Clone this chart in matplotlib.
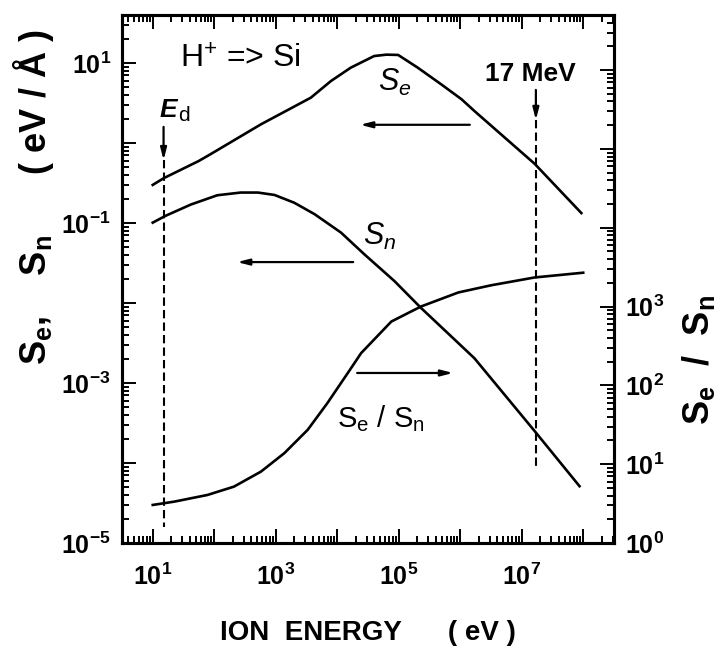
import math
import matplotlib
matplotlib.use('Agg')
import matplotlib.pyplot as plt
from matplotlib.ticker import FixedLocator, FuncFormatter, LogLocator, NullFormatter

plt.rcParams['font.family'] = ['Liberation Sans', 'DejaVu Sans']
plt.rcParams['mathtext.fontset'] = 'custom'
plt.rcParams['mathtext.rm'] = 'Liberation Sans'
plt.rcParams['mathtext.it'] = 'Liberation Sans:italic'
plt.rcParams['mathtext.bf'] = 'Liberation Sans:bold'

# electronic stopping Se (eV/A)
se_energy = [10, 15.1, 56.2, 87.1, 575, 3720, 7940, 16600, 39800, 63100, 97700,
             204000, 490000, 1.05e6, 1.70e6, 1.62e7, 9.33e7]
se_value = [0.299, 0.363, 0.596, 0.724, 1.71, 3.68, 5.96, 8.73, 12.2, 12.7, 12.6,
            8.73, 5.41, 3.52, 2.51, 0.550, 0.133]

# nuclear stopping Sn (eV/A)
sn_energy = [10, 16.2, 41.7, 112, 269, 513, 955, 2000, 4270, 11500, 27500, 85100,
             229000, 1.70e6, 1.62e7, 8.71e7]
sn_value = [0.101, 0.123, 0.170, 0.222, 0.240, 0.240, 0.224, 0.179, 0.129, 0.0759,
            0.0407, 0.0188, 0.00871, 0.00204, 2.51e-4, 5.13e-5]

# ratio Se / Sn (right axis)
ratio_energy = [10, 22.4, 77.6, 209, 575, 1380, 3310, 6920, 14800, 24500, 75900,
                229000, 933000, 3.16e6, 1.62e7, 1.0e8]
ratio_value = [3.04, 3.35, 4.07, 5.19, 8.05, 13.8, 27.3, 59.6, 143, 257, 646,
               1000, 1510, 1860, 2340, 2690]

e_d = 15        # displacement energy, eV
e_mark = 1.7e7  # 17 MeV

x_major = [10 ** k for k in range(1, 9)]
left_major = [10 ** k for k in range(-5, 2)]
right_major = [10 ** k for k in range(0, 7)]


def pow_label(shown):
    def fmt(v, pos):
        k = int(round(math.log10(v)))
        return r'$\mathbf{10^{%d}}$' % k if k in shown else ''
    return fmt


fig = plt.figure(figsize=(7.24, 6.5), dpi=100)
ax = fig.add_axes([0.1685, 0.1646, 0.6795, 0.8124])
ax.set_xscale('log')
ax.set_yscale('log')
ax.set_xlim(10 ** 0.5, 10 ** 8.5)
ax.set_ylim(1e-5, 10 ** 1.6)

ax.plot(se_energy, se_value, color='black', lw=1.9, solid_joinstyle='round')
ax.plot(sn_energy, sn_value, color='black', lw=1.9, solid_joinstyle='round')

ax2 = ax.twinx()
ax2.set_yscale('log')
ax2.set_ylim(1, 10 ** 6.7)
ax2.plot(ratio_energy, ratio_value, color='black', lw=1.9, solid_joinstyle='round')

# ticks
ax.xaxis.set_major_locator(FixedLocator(x_major))
ax.xaxis.set_major_formatter(FuncFormatter(pow_label({1, 3, 5, 7})))
ax.xaxis.set_minor_locator(LogLocator(base=10, subs=range(2, 10), numticks=30))
ax.xaxis.set_minor_formatter(NullFormatter())
ax.yaxis.set_major_locator(FixedLocator(left_major))
ax.yaxis.set_major_formatter(FuncFormatter(pow_label({1, -1, -3, -5})))
ax.yaxis.set_minor_locator(LogLocator(base=10, subs=range(2, 10), numticks=30))
ax.yaxis.set_minor_formatter(NullFormatter())
ax2.yaxis.set_major_locator(FixedLocator(right_major))
ax2.yaxis.set_major_formatter(FuncFormatter(pow_label({0, 1, 2, 3})))
ax2.yaxis.set_minor_locator(LogLocator(base=10, subs=range(2, 10), numticks=30))
ax2.yaxis.set_minor_formatter(NullFormatter())

ax.tick_params(which='both', direction='in', top=True, right=False, width=1.4)
ax.tick_params(which='major', length=10, labelsize=18)
ax.tick_params(which='minor', length=5)
ax.tick_params(axis='x', which='major', pad=15)
ax.tick_params(axis='y', which='major', pad=8)
ax2.tick_params(which='both', direction='in', width=1.4)
ax2.tick_params(which='major', length=10, labelsize=18, pad=8)
ax2.tick_params(which='minor', length=5)
for a in (ax, ax2):
    for sp in a.spines.values():
        sp.set_linewidth(2.2)

# labels inside the plot
ax.text(0.118, 0.916, r'H$^{+}$ => Si', transform=ax.transAxes, fontsize=23,
        va='center', ha='left')
ax.text(0.077, 0.82, 'E', transform=ax.transAxes, fontsize=19, style='italic',
        fontweight='bold', va='center', ha='left')
ax.text(0.115, 0.81, 'd', transform=ax.transAxes, fontsize=15, va='center', ha='left')
ax.text(0.831, 0.888, '17 MeV', transform=ax.transAxes, fontsize=19,
        fontweight='bold', va='center', ha='center')
ax.text(0.52, 0.872, r'$S_{e}$', transform=ax.transAxes, fontsize=22, va='center', ha='left')
ax.text(0.49, 0.58, r'$S_{n}$', transform=ax.transAxes, fontsize=22, va='center', ha='left')
ax.text(0.437, 0.235, r'S$_{\mathrm{e}}$ / S$_{\mathrm{n}}$', transform=ax.transAxes,
        fontsize=21, va='center', ha='left')

# direction arrows
arrow = dict(arrowstyle='-|>,head_length=0.7,head_width=0.18', lw=1.6, color='black',
             shrinkA=0, shrinkB=0)
ax.annotate('', xy=(0.484, 0.792), xytext=(0.707, 0.792), xycoords='axes fraction',
            arrowprops=arrow)
ax.annotate('', xy=(0.234, 0.532), xytext=(0.470, 0.532), xycoords='axes fraction',
            arrowprops=arrow)
ax.annotate('', xy=(0.673, 0.322), xytext=(0.478, 0.322), xycoords='axes fraction',
            arrowprops=arrow)

# energy markers
bt = ax.get_xaxis_transform()
ax.annotate('', xy=(e_d, 0.725), xytext=(e_d, 0.788), xycoords=bt, arrowprops=arrow)
ax.plot([e_d, e_d], [0.725, 0.03], transform=bt, color='black', lw=1.5,
        linestyle=(0, (4, 2)))
ax.annotate('', xy=(e_mark, 0.801), xytext=(e_mark, 0.858), xycoords=bt, arrowprops=arrow)
ax.plot([e_mark, e_mark], [0.801, 0.142], transform=bt, color='black', lw=1.5,
        linestyle=(0, (4, 2)))

# axis titles
fig.text(0.508, 0.026, 'ION  ENERGY      ( eV )', fontsize=20, fontweight='bold',
         ha='center', va='center')
fig.text(0.046, 0.697, r'$\mathbf{S_{e}}$,    $\mathbf{S_{n}}$      ( eV / Å )',
         fontsize=26, fontweight='bold', rotation=90, ha='center', va='center')
fig.text(0.965, 0.446, r'$\mathbf{S_{e}}$  /  $\mathbf{S_{n}}$', fontsize=26,
         fontweight='bold', rotation=90, ha='center', va='center')

fig.savefig('out.png', dpi=100)
